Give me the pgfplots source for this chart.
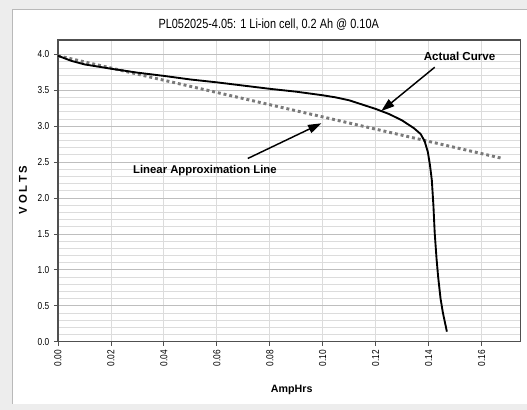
\documentclass[border=0pt]{standalone}
\usepackage{pgfplots}
\pgfplotsset{compat=1.18}
\usepackage{fontspec}
\setmainfont{Liberation Sans}
\newfontfamily\narrowfont[FakeStretch=0.82]{Liberation Sans}
\usetikzlibrary{arrows.meta}
\definecolor{gridc}{HTML}{DCDCDC}
\definecolor{gridmaj}{HTML}{BEBEBE}
\definecolor{axc}{HTML}{505050}
\definecolor{linc}{HTML}{7A7A7A}
\definecolor{panel}{HTML}{EDEDED}
\begin{document}
\begin{tikzpicture}[x=0.75pt,y=0.75pt]
\fill[panel] (0,0) rectangle (527,410);
\fill[white] (13,6) rectangle (527,400);
\draw[gray!55, line width=0.75pt] (13,6) -- (13,400) -- (527,400);
\useasboundingbox (0,0) rectangle (527,410);
\begin{axis}[
  at={(43.5pt,51pt)}, anchor=south west,
  scale only axis, width=347.25pt, height=226.5pt,
  xmin=0, xmax=0.1747, ymin=0, ymax=4.2,
  xtick={0,0.02,0.04,0.06,0.08,0.10,0.12,0.14,0.16},
  ytick={0,0.5,1.0,1.5,2.0,2.5,3.0,3.5,4.0},
  minor y tick num=4,
  xmajorgrids, ymajorgrids, yminorgrids,
  major x grid style={draw=gridc, line width=0.6pt},
  major y grid style={draw=gridmaj, line width=0.6pt},
  minor y grid style={draw=gridc, line width=0.6pt},
  axis line style={draw=axc, line width=1.2pt},
  tick style={draw=axc, line width=0.6pt},
  major tick length=3pt, minor tick length=0pt,
  tick align=outside, xtick pos=bottom, ytick pos=left,
  xticklabel style={rotate=90, anchor=east, font=\narrowfont\fontsize{7.6}{8}\selectfont, /pgf/number format/.cd, fixed, fixed zerofill, precision=2},
  yticklabel style={font=\narrowfont\fontsize{7.6}{8}\selectfont, /pgf/number format/.cd, fixed, fixed zerofill, precision=1},
  /pgf/number format/assume math mode=true,
  scaled x ticks=false,
  clip=false,
]
\addplot[linc, line width=2.2pt, dash pattern=on 2.2pt off 2.2pt] coordinates {(0,3.98) (0.168,2.55)};
\addplot[black, line width=1.4pt] coordinates {
(0,3.98) (0.005,3.91) (0.01,3.86) (0.02,3.80) (0.03,3.745) (0.04,3.70)
(0.05,3.65) (0.06,3.61) (0.07,3.565) (0.08,3.52) (0.09,3.48) (0.10,3.43)
(0.105,3.40) (0.11,3.36) (0.115,3.30) (0.12,3.24) (0.125,3.17) (0.13,3.08)
(0.1345,2.97) (0.1370,2.89) (0.1385,2.79) (0.1397,2.64) (0.1405,2.46)
(0.1412,2.25) (0.1418,1.90) (0.1423,1.51) (0.1430,1.15) (0.1436,0.90)
(0.1445,0.60) (0.1454,0.40) (0.1469,0.14)};
\node[font=\bfseries\fontsize{8.5}{10}\selectfont] at (axis cs:0.0555,2.38) {Linear Approximation Line};
\draw[-{Triangle[length=10pt,width=6.5pt]}, line width=1.1pt] (axis cs:0.0717,2.55) -- (axis cs:0.0995,3.04);
\node[font=\bfseries\fontsize{8.7}{10}\selectfont] at (axis cs:0.1517,3.97) {Actual Curve};
\draw[-{Triangle[length=10pt,width=6.5pt]}, line width=1.1pt] (axis cs:0.1423,3.82) -- (axis cs:0.1221,3.21);
\end{axis}
\node[font=\narrowfont\fontsize{10}{11}\selectfont] at (269,385) {PL052025-4.05: 1 Li-ion cell, 0.2 Ah @ 0.10A};
\node[font=\bfseries\fontsize{8}{10}\selectfont] at (292,20) {AmpHrs};
\node[font=\bfseries\fontsize{8.5}{10}\selectfont, rotate=90] at (23,220) {V\hspace{2pt}O\hspace{2pt}L\hspace{2pt}T\hspace{2pt}S};
\end{tikzpicture}
\end{document}
